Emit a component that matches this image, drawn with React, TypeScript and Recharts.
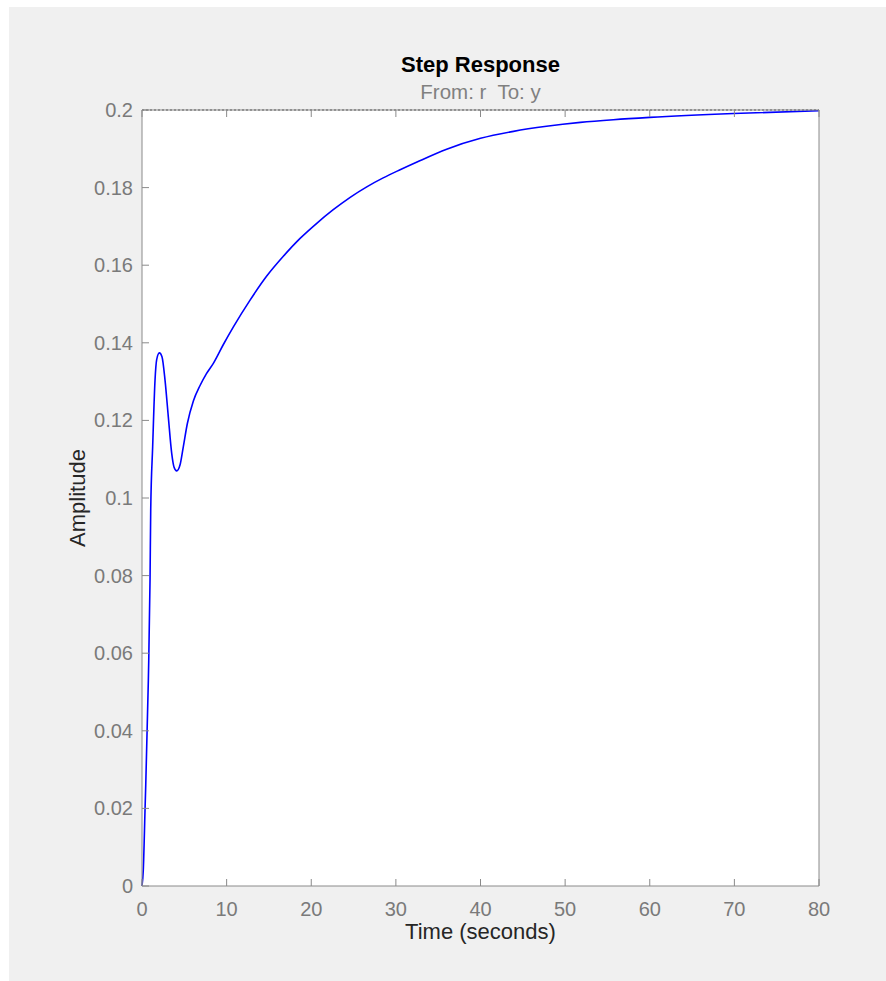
import React from 'react';
import { LineChart, Line, XAxis, YAxis, ReferenceLine } from 'recharts';

// step response samples
const timeSec = [
  0, 0.15, 0.35, 0.75, 0.95, 1.03, 1.26, 1.54, 1.73, 2.05, 2.36, 2.72, 3.11, 3.51, 3.78, 4.1, 4.49,
  4.88, 5.36, 6.07, 6.86, 7.6, 8.43, 9.6, 10.8, 12.77, 14.74, 16.7, 18.68, 20.65, 22.6, 24.6, 26.56,
  28.5, 30.5, 32.5, 36.0, 40.0, 43.9, 47.8, 51.8, 55.7, 60.0, 69.9, 80.0,
];
const amplitude = [
  0, 0.004, 0.019, 0.053, 0.079, 0.0969, 0.1132, 0.1304, 0.1356, 0.1374, 0.1364, 0.1304, 0.1209,
  0.1115, 0.108, 0.107, 0.1085, 0.1132, 0.1192, 0.125, 0.129, 0.132, 0.1347, 0.1395, 0.1441,
  0.151, 0.1572, 0.1623, 0.1669, 0.1708, 0.1743, 0.1775, 0.1802, 0.1825, 0.1846, 0.1866, 0.1899,
  0.1927, 0.1945, 0.1958, 0.1968, 0.1975, 0.1981, 0.1991, 0.1998,
];
const steadyState = 0.2;

const xTicks = [0, 10, 20, 30, 40, 50, 60, 70, 80];
const yTicks = [0, 0.02, 0.04, 0.06, 0.08, 0.1, 0.12, 0.14, 0.16, 0.18, 0.2];

const data = timeSec.map((t, i) => ({ t, y: amplitude[i] }));

const FONT = '"Liberation Sans", Arial, Helvetica, sans-serif';
const AXIS = '#8a8a8a';
const TICK_TXT = '#7a7a7a';
const TICK_LEN = 7;

const fmtY = (v: number) => String(Number(v.toFixed(2)));

const BottomTick = (props: any) => {
  const { x, y, payload } = props;
  return (
    <g>
      <line x1={x} y1={y} x2={x} y2={y - TICK_LEN} stroke={AXIS} />
      <text x={x} y={y + 30} textAnchor="middle" fill={TICK_TXT} fontSize={20} fontFamily={FONT}>
        {payload.value}
      </text>
    </g>
  );
};

const LeftTick = (props: any) => {
  const { x, y, payload } = props;
  return (
    <g>
      <line x1={x} y1={y} x2={x + TICK_LEN} y2={y} stroke={AXIS} />
      <text x={x - 9} y={y + 7} textAnchor="end" fill={TICK_TXT} fontSize={20} fontFamily={FONT}>
        {fmtY(payload.value)}
      </text>
    </g>
  );
};

const TopTick = (props: any) => {
  const { x, y } = props;
  return <line x1={x} y1={y} x2={x} y2={y + TICK_LEN} stroke={AXIS} />;
};

const RightTick = (props: any) => {
  const { x, y } = props;
  return <line x1={x} y1={y} x2={x - TICK_LEN} y2={y} stroke={AXIS} />;
};

export default function App() {
  const W = 877;
  const H = 974;
  // plot box in chart coords
  const left = 133;
  const top = 103;
  const plotW = 677;
  const plotH = 776;
  const cx = left + plotW / 2;
  const xAxisH = 40;
  const yAxisW = 60;
  const sideAxis = 10;

  return (
    <div style={{ position: 'absolute', left: 0, top: 0, width: 886, height: 981, background: '#fff' }}>
      <div style={{ position: 'absolute', left: 9, top: 7, width: W, height: H, background: '#f0f0f0' }}>
        <div style={{ position: 'absolute', left: 0, top: 0 }}>
          <LineChart
            width={W}
            height={H}
            data={data}
            margin={{
              top: top - sideAxis,
              right: W - left - plotW - sideAxis,
              bottom: H - top - plotH - xAxisH,
              left: left - yAxisW,
            }}
          >
            <rect x={left} y={top} width={plotW} height={plotH} fill="#fff" />
            <XAxis
              dataKey="t"
              type="number"
              domain={[0, 80]}
              ticks={xTicks}
              height={xAxisH}
              tickSize={0}
              tickMargin={0}
              tickLine={false}
              axisLine={{ stroke: AXIS }}
              tick={(p: any) => <BottomTick {...p} />}
              interval={0}
            />
            <XAxis
              xAxisId="top"
              orientation="top"
              dataKey="t"
              type="number"
              domain={[0, 80]}
              ticks={xTicks}
              height={sideAxis}
              tickSize={0}
              tickMargin={0}
              tickLine={false}
              axisLine={{ stroke: AXIS }}
              tick={(p: any) => <TopTick {...p} />}
              interval={0}
            />
            <YAxis
              type="number"
              domain={[0, 0.2]}
              ticks={yTicks}
              width={yAxisW}
              tickSize={0}
              tickMargin={0}
              tickLine={false}
              axisLine={{ stroke: AXIS }}
              tick={(p: any) => <LeftTick {...p} />}
              interval={0}
            />
            <YAxis
              yAxisId="right"
              orientation="right"
              type="number"
              domain={[0, 0.2]}
              ticks={yTicks}
              width={sideAxis}
              tickSize={0}
              tickMargin={0}
              tickLine={false}
              axisLine={{ stroke: AXIS }}
              tick={(p: any) => <RightTick {...p} />}
              interval={0}
            />
            <ReferenceLine y={steadyState} stroke="#3a3a3a" strokeDasharray="2 2" strokeWidth={1} ifOverflow="visible" />
            <Line
              dataKey="y"
              type="monotone"
              stroke="#0000ff"
              strokeWidth={1.6}
              dot={false}
              isAnimationActive={false}
            />
          </LineChart>
        </div>
        <svg
          width={W}
          height={H}
          style={{ position: 'absolute', left: 0, top: 0, pointerEvents: 'none' }}
        >
          <text x={cx} y={65} textAnchor="middle" fontSize={22} fontWeight="bold" fill="#000" fontFamily={FONT}>
            Step Response
          </text>
          <text x={cx} y={92} textAnchor="middle" fontSize={20.5} fill="#808080" fontFamily={FONT} xmlSpace="preserve">
            From: r  To: y
          </text>
          <text x={cx} y={932} textAnchor="middle" fontSize={22} fill="#262626" fontFamily={FONT}>
            Time (seconds)
          </text>
          <text
            x={76}
            y={top + plotH / 2}
            textAnchor="middle"
            fontSize={22}
            fill="#262626"
            fontFamily={FONT}
            transform={`rotate(-90 76 ${top + plotH / 2})`}
          >
            Amplitude
          </text>
        </svg>
      </div>
    </div>
  );
}
